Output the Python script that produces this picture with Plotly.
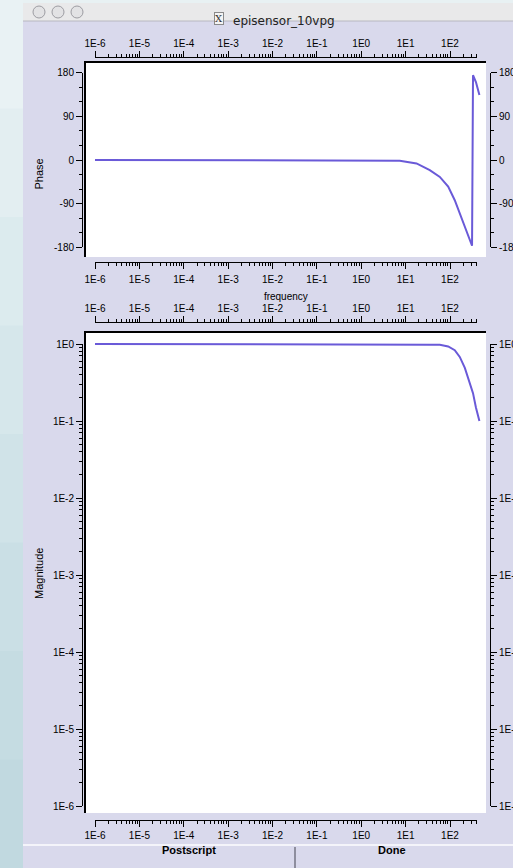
import math
import plotly.graph_objects as go

W, H = 513, 868

# Frequency response of the sensor
freq_hz = [1e-6, 1e-3, 1.0, 3.4, 7.4, 17.6, 35, 59, 91, 128, 166, 216, 268, 314, 330, 384, 460]
phase_deg = [0, 0, 0, 0, -1.4, -7, -21, -35, -55, -83, -110, -134, -158, -177, 175, 161, 134]
magnitude = [1.0, 1.0, 1.0, 1.0, 0.99, 0.985, 0.98, 0.975, 0.93, 0.83, 0.68, 0.49, 0.34, 0.25, 0.23, 0.15, 0.10]

# Axis ticks
freq_decades = [1e-6, 1e-5, 1e-4, 1e-3, 1e-2, 1e-1, 1e0, 1e1, 1e2]
freq_labels = ["1E-6", "1E-5", "1E-4", "1E-3", "1E-2", "1E-1", "1E0", "1E1", "1E2"]
freq_minor = [m * d for d in freq_decades[:-1] for m in range(2, 10)] + [200, 300, 400]
phase_major = [-180, -90, 0, 90, 180]
phase_minor = list(range(-180, 181, 30))
mag_decades = [1e-6, 1e-5, 1e-4, 1e-3, 1e-2, 1e-1, 1e0]
mag_labels = ["1E-6", "1E-5", "1E-4", "1E-3", "1E-2", "1E-1", "1E0"]
mag_minor = [m * d for d in mag_decades[:-1] for m in range(2, 10)]

LINE = "#6a5ad8"
LAV = "#d9d9ec"
FONT = dict(family="Liberation Sans, Arial, sans-serif", size=10, color="black")


def px(x):
    return x / W


def py(y):
    return 1 - y / H


# pixel geometry of the two plot boxes
BX0, BX1 = 85, 486
P_TOP, P_BOT = 62, 257
M_TOP, M_BOT = 332, 813
F0_PX, DEC_PX = 95, 44.375            # 1E-6 position, pixels per decade
F_END_PX = F0_PX + (math.log10(400) + 6) * DEC_PX
x_range = [-6 - (F0_PX - BX0) / DEC_PX, -6 + (BX1 - F0_PX) / DEC_PX]

P_ZERO, P_90 = 160, 43.6               # phase 0 position, pixels per 90 deg
p_range = [-(P_BOT - P_ZERO) / P_90 * 90, (P_ZERO - P_TOP) / P_90 * 90]
M_ONE, M_DEC = 344, 77                 # magnitude 1E0 position, pixels per decade
m_range = [-(M_BOT - M_ONE) / M_DEC, (M_ONE - M_TOP) / M_DEC]

fig = go.Figure()

fig.add_trace(go.Scatter(x=freq_hz, y=phase_deg, mode="lines", xaxis="x", yaxis="y",
                         line=dict(color=LINE, width=2), hoverinfo="skip", showlegend=False))
fig.add_trace(go.Scatter(x=freq_hz, y=magnitude, mode="lines", xaxis="x3", yaxis="y5",
                         line=dict(color=LINE, width=2), hoverinfo="skip", showlegend=False))

# invisible anchors so that every tick axis gets drawn
for xa, ya, xv, yv in [("x2", "y", 1, 0), ("x6", "y", 1, 0), ("x", "y3", 1, 0), ("x", "y4", 1, 0),
                       ("x4", "y5", 1, 1), ("x5", "y5", 1, 1), ("x3", "y6", 1, 1), ("x3", "y7", 1, 1)]:
    fig.add_trace(go.Scatter(x=[xv], y=[yv], xaxis=xa, yaxis=ya, mode="markers",
                             marker=dict(opacity=0), hoverinfo="skip", showlegend=False))

hidden = dict(visible=False, showgrid=False, zeroline=False, fixedrange=True)


def freq_tick_axis(side, pos_y, title=None, standoff=0):
    ax = dict(type="log", range=[-6, math.log10(400)], domain=[px(F0_PX), px(F_END_PX)],
              anchor="free", position=py(pos_y), side=side,
              showline=True, linecolor="black", linewidth=1, showgrid=False, zeroline=False,
              ticks="outside", ticklen=6, tickwidth=1, tickcolor="black",
              tickvals=freq_decades, ticktext=freq_labels, tickfont=FONT,
              ticklabelstandoff=standoff,
              minor=dict(tickvals=freq_minor, ticks="outside", ticklen=3, tickcolor="black",
                         tickwidth=1, showgrid=False),
              fixedrange=True)
    if title:
        ax["title"] = dict(text=title, font=FONT, standoff=8)
    return ax


def phase_tick_axis(side, pos_x):
    return dict(range=[-180, 180], domain=[py(P_ZERO + 2 * P_90), py(P_ZERO - 2 * P_90)],
                anchor="free", position=px(pos_x), side=side,
                showline=True, linecolor="black", linewidth=1, showgrid=False, zeroline=False,
                ticks="outside", ticklen=6, tickwidth=1, tickcolor="black",
                tickvals=phase_major, ticktext=[str(v) for v in phase_major], tickfont=FONT,
                minor=dict(tickvals=phase_minor, ticks="outside", ticklen=3, tickcolor="black",
                           tickwidth=1, showgrid=False),
                fixedrange=True)


def mag_tick_axis(side, pos_x):
    return dict(type="log", range=[-6, 0], domain=[py(M_ONE + 6 * M_DEC), py(M_ONE)],
                anchor="free", position=px(pos_x), side=side,
                showline=True, linecolor="black", linewidth=1, showgrid=False, zeroline=False,
                ticks="outside", ticklen=6, tickwidth=1, tickcolor="black",
                tickvals=mag_decades, ticktext=mag_labels, tickfont=FONT,
                minor=dict(tickvals=mag_minor, ticks="outside", ticklen=3, tickcolor="black",
                           tickwidth=1, showgrid=False),
                fixedrange=True)


fig.update_layout(
    width=W, height=H, margin=dict(l=0, r=0, t=0, b=0, autoexpand=False),
    paper_bgcolor="#e8f1f3", plot_bgcolor="rgba(0,0,0,0)",
    xaxis=dict(type="log", range=x_range, domain=[px(BX0), px(BX1)], anchor="y", **hidden),
    yaxis=dict(range=p_range, domain=[py(P_BOT), py(P_TOP)], anchor="x", **hidden),
    xaxis3=dict(type="log", range=x_range, domain=[px(BX0), px(BX1)], anchor="y5", **hidden),
    yaxis5=dict(type="log", range=m_range, domain=[py(M_BOT), py(M_TOP)], anchor="x3", **hidden),
    xaxis2=freq_tick_axis("top", 57),
    xaxis6=freq_tick_axis("bottom", 262, "frequency", standoff=2),
    xaxis4=freq_tick_axis("top", 322),
    xaxis5=freq_tick_axis("bottom", 820),
    yaxis3=phase_tick_axis("left", 82),
    yaxis4=phase_tick_axis("right", 490),
    yaxis6=mag_tick_axis("left", 82),
    yaxis7=mag_tick_axis("right", 490),
)

shapes = []


def rect(x0, y0, x1, y1, fill, line_color=None, lw=0, layer="below"):
    shapes.append(dict(type="rect", xref="paper", yref="paper", x0=px(x0), x1=px(x1),
                       y0=py(y1), y1=py(y0), fillcolor=fill, layer=layer,
                       line=dict(color=line_color or fill, width=lw)))


def hline(x0, x1, y, color, lw):
    shapes.append(dict(type="line", xref="paper", yref="paper", x0=px(x0), x1=px(x1),
                       y0=py(y), y1=py(y), line=dict(color=color, width=lw), layer="above"))


def vline(x, y0, y1, color, lw):
    shapes.append(dict(type="line", xref="paper", yref="paper", x0=px(x), x1=px(x),
                       y0=py(y0), y1=py(y1), line=dict(color=color, width=lw), layer="above"))


# desktop strip on the left, lightening towards the top
strip = ["#e9f2f4", "#e3eef1", "#dcebee", "#d6e7eb", "#d0e3e8", "#cadfe5", "#c5dce2", "#c1d9e0"]
band = H / len(strip)
for i, c in enumerate(strip):
    rect(0, i * band, 23, (i + 1) * band + 1, c)

# window body and title bar
TB0, TB1 = 3, 21
rect(23, TB1, W, H, LAV)
rect(23, TB0, W, TB1, "#e9e9ea")
hline(23, W, TB1, "#b8b8c0", 1)
for cx in (39, 58, 77):
    shapes.append(dict(type="circle", xref="paper", yref="paper",
                       x0=px(cx - 6), x1=px(cx + 6), y0=py(18), y1=py(6),
                       fillcolor="#e2e2e4", line=dict(color="#9c9ca2", width=1), layer="below"))

# plot boxes: white face with a dark left/top edge
for top, bot in ((P_TOP, P_BOT), (M_TOP, M_BOT)):
    rect(BX0, top, BX1, bot, "white")
    vline(BX0, top - 1, bot, "black", 2)
    hline(BX0 - 1, BX1, top, "black", 2)

# button row
hline(23, W, 845, "#f4f4fa", 2)
vline(295, 847, H, "#8e8e9e", 2)

fig.update_layout(shapes=shapes)

ann = [
    dict(x=px(231), y=py(12), text="episensor_10vpg", xanchor="left",
         font=dict(family="DejaVu Sans, sans-serif", size=12, color="#222222")),
    dict(x=px(219), y=py(12), text="X", xanchor="center", bordercolor="#8a8a8a", borderwidth=1,
         borderpad=0, bgcolor="#f4f4f4",
         font=dict(family="DejaVu Serif, serif", size=10, color="#333333")),
    dict(x=px(31), y=py(157), text="Phase", textangle=-90, font=dict(FONT, size=11)),
    dict(x=px(31), y=py(574), text="Magnitude", textangle=-90, font=dict(FONT, size=11)),
    dict(x=px(160), y=py(858), text="<b>Postscript</b>", font=dict(FONT, size=11)),
    dict(x=px(408), y=py(858), text="<b>Done</b>", font=dict(FONT, size=11)),
]
for a in ann:
    a.update(xref="paper", yref="paper", showarrow=False)
fig.update_layout(annotations=ann)

fig.write_html("out.html")
